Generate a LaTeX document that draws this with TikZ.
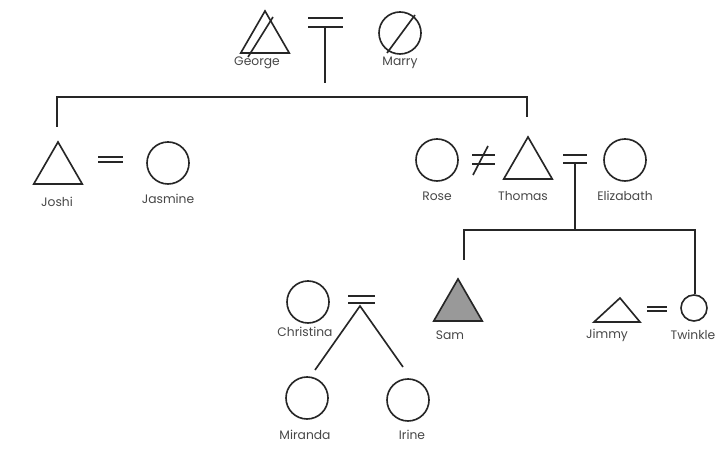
\documentclass[tikz,border=0pt]{standalone}
\usepackage{fontspec}
\setsansfont{Poppins}
\usetikzlibrary{shapes.geometric}

\begin{document}
\begin{tikzpicture}[
        x = 0.03cm, y = -0.03cm,
        line width = 1.4pt,
        every node/.style = {inner sep = 0pt, outer sep = 0pt},
        male/.style = {draw = black!85, regular polygon, regular polygon sides = 3, minimum size = 1.68cm},
        female/.style = {draw = black!85, circle, minimum size = 1.26cm},
        tag/.style = {text = black!72, font = \sffamily\fontsize{10.5}{12}\selectfont},
        wed/.style = {draw = black!85, line width = 1.2pt},
        kin/.style = {draw = black!85}
    ]

      \useasboundingbox (0,0) rectangle (719,455);

      % first generation
      \node[male] (george) at (265,39) {};
      \node[female] (marry) at (400,33) {};
      \draw[kin] (273,17) -- (248,57);
      \draw[kin] (415,15) -- (387,53);
      \node[tag] (georgetxt) at (257,63) {George};
      \node[tag] (marrytxt) at (400,63) {Marry};

      \draw[wed] (308,18) -- (343,18);
      \draw[wed] (308,27) -- (343,27);
      \coordinate (gmline) at (325,27);
      \coordinate (gmend) at (325,83);
      \draw[kin] (gmline) -- (gmend);

      % second generation
      \coordinate (topbar) at (0,97);
      \coordinate (joshitop) at (57,127);
      \coordinate (thomastop) at (527,117);
      \draw[kin] (joshitop) -- (joshitop |- topbar) -- (thomastop |- topbar) -- (thomastop);

      \node[male] (joshi) at (58,170) {};
      \node[female] (jasmine) at (168,163) {};
      \draw[wed] (98,157) -- (123,157);
      \draw[wed] (98,162) -- (123,162);
      \node[tag] (joshitxt) at (57,202) {Joshi};
      \node[tag] (jasminetxt) at (168,199) {Jasmine};

      \node[female] (rose) at (437,160) {};
      \node[male] (thomas) at (528,165) {};
      \node[female] (elizabeth) at (625,160) {};
      \draw[wed] (472,155) -- (495,155);
      \draw[wed] (472,164) -- (495,164);
      \draw[kin] (473,175) -- (488,146);
      \draw[wed] (563,155) -- (587,155);
      \draw[wed] (563,163) -- (587,163);
      \node[tag] (rosetxt) at (437,196) {Rose};
      \node[tag] (thomastxt) at (523,196) {Thomas};
      \node[tag] (elizabethtxt) at (625,196) {Elizabath};

      % third generation
      \coordinate (teline) at (575,163);
      \coordinate (kidbar) at (0,230);
      \coordinate (samtop) at (464,260);
      \coordinate (twinkletop) at (695,294);
      \draw[kin] (teline) -- (teline |- kidbar);
      \draw[kin] (samtop) -- (samtop |- kidbar) -- (twinkletop |- kidbar) -- (twinkletop);

      \node[male, fill = black!40] (sam) at (458,307) {};
      \node[tag] (samtxt) at (450,335) {Sam};

      \draw[kin] (594,322) -- (620,298) -- (640,322) -- cycle;
      \node[female, minimum size = 0.78cm] (twinkle) at (694,308) {};
      \draw[wed] (647,307) -- (667,307);
      \draw[wed] (647,311) -- (667,311);
      \node[tag] (jimmytxt) at (607,335) {Jimmy};
      \node[tag] (twinkletxt) at (693,335) {Twinkle};

      \node[female] (christina) at (308,302) {};
      \node[tag] (christinatxt) at (305,332) {Christina};
      \draw[wed] (348,296) -- (375,296);
      \draw[wed] (348,303) -- (375,303);

      % fourth generation
      \coordinate (ccline) at (360,306);
      \coordinate (mirandaup) at (315,370);
      \coordinate (irineup) at (403,367);
      \draw[kin] (mirandaup) -- (ccline) -- (irineup);

      \node[female] (miranda) at (307,398) {};
      \node[female] (irine) at (408,400) {};
      \node[tag] (mirandatxt) at (305,435) {Miranda};
      \node[tag] (irinetxt) at (412,435) {Irine};

\end{tikzpicture}
\end{document}
